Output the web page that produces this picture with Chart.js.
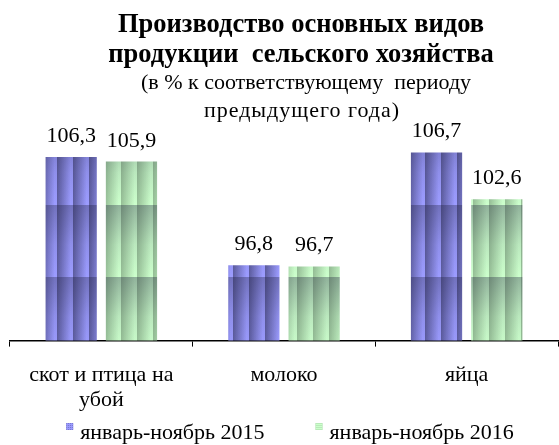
<!DOCTYPE html>
<html><head><meta charset="utf-8">
<script src="https://cdn.jsdelivr.net/npm/chart.js@4/dist/chart.umd.min.js"></script>
<style>html,body{margin:0;padding:0;background:#fff;overflow:hidden}canvas{display:block}</style>
</head><body>
<canvas id="c" width="559" height="445"></canvas>
<script>
// ---- data ----
const categories = [['скот и птица на', 'убой'], 'молоко', 'яйца'];
const seriesNames = ['январь-ноябрь 2015', 'январь-ноябрь 2016'];
const values2015 = [106.3, 96.8, 106.7];
const values2016 = [105.9, 96.7, 102.6];
const titleLines = ['Производство основных видов', 'продукции  сельского хозяйства'];
const subtitleLines = ['(в % к соответствующему  периоду', 'предыдущего года)'];
const yMin = 90.2, yMax = 108.05;

// ---- styles ----
const FONT = '"Liberation Serif", "Times New Roman", serif';
const baseColors = [
  {light: '#9c9cff', dark: '#5c5c9e', legend: '#7070c8'},
  {light: '#ccffcc', dark: '#96bf96', legend: '#a4d4a4'}
];

function makePattern(col) {
  const c = document.createElement('canvas');
  c.width = 16; c.height = 72;
  const g = c.getContext('2d');
  const hg = g.createLinearGradient(0, 0, 16, 0);
  hg.addColorStop(0, col.dark);
  hg.addColorStop(0.85, col.light);
  hg.addColorStop(1, col.light);
  g.fillStyle = hg;
  g.fillRect(0, 0, 16, 72);
  const vg = g.createLinearGradient(0, 0, 0, 72);
  vg.addColorStop(0, 'rgba(30,30,60,0.34)');
  vg.addColorStop(0.55, 'rgba(30,30,60,0.10)');
  vg.addColorStop(1, 'rgba(30,30,60,0)');
  g.fillStyle = vg;
  g.fillRect(0, 0, 16, 72);
  const ctx = document.getElementById('c').getContext('2d');
  const p = ctx.createPattern(c, 'repeat');
  if (p.setTransform) p.setTransform(new DOMMatrix([1, 0, 0, 1, 9, 61]));
  return p;
}

const patterns = baseColors.map(makePattern);

const valueLabels = {
  id: 'valueLabels',
  afterDatasetsDraw(chart) {
    const ctx = chart.ctx;
    ctx.save();
    ctx.fillStyle = '#000';
    ctx.font = '22px ' + FONT;
    ctx.textAlign = 'center';
    ctx.textBaseline = 'alphabetic';
    chart.data.datasets.forEach((ds, di) => {
      const meta = chart.getDatasetMeta(di);
      meta.data.forEach((el, i) => {
        const txt = ds.data[i].toFixed(1).replace('.', ',');
        ctx.fillText(txt, el.x, el.y - 15);
      });
    });
    ctx.restore();
  }
};

const titles = {
  id: 'titles',
  afterDraw(chart) {
    const ctx = chart.ctx;
    ctx.save();
    ctx.fillStyle = '#000';
    ctx.textAlign = 'center';
    ctx.textBaseline = 'alphabetic';
    ctx.font = 'bold 26.5px ' + FONT;
    ctx.fillText(titleLines[0], 301, 32);
    ctx.fillText(titleLines[1], 301, 62);
    ctx.font = '22px ' + FONT;
    ctx.fillText(subtitleLines[0], 306, 89);
    if ('letterSpacing' in ctx) ctx.letterSpacing = '1px';
    ctx.fillText(subtitleLines[1], 302, 117);
    ctx.restore();
  }
};

const legendPlugin = {
  id: 'customLegend',
  afterDraw(chart) {
    const ctx = chart.ctx;
    ctx.save();
    ctx.font = '22px ' + FONT;
    ctx.textBaseline = 'alphabetic';
    ctx.textAlign = 'left';
    const box = 7, boxGap = 7, itemGap = 51;
    const widths = chart.data.datasets.map(d => ctx.measureText(d.label).width);
    let total = 0;
    widths.forEach((w, i) => { total += box + boxGap + w + (i ? itemGap : 0); });
    let x = 290 - total / 2;
    const baseY = 439;
    chart.data.datasets.forEach((d, i) => {
      const col = baseColors[i];
      ctx.fillStyle = col.legend;
      ctx.fillRect(x, baseY - 16, box, box);
      ctx.fillStyle = col.light;
      for (let k = 1; k < box; k += 2) {
        ctx.fillRect(x + k, baseY - 16, 1, box);
        ctx.fillRect(x, baseY - 16 + k, box, 1);
      }
      ctx.fillStyle = '#000';
      ctx.fillText(d.label, x + box + boxGap, baseY);
      x += box + boxGap + widths[i] + itemGap;
    });
    ctx.restore();
  }
};

new Chart(document.getElementById('c'), {
  type: 'bar',
  data: {
    labels: categories,
    datasets: [
      {label: seriesNames[0], data: values2015, backgroundColor: patterns[0], borderWidth: 0},
      {label: seriesNames[1], data: values2016, backgroundColor: patterns[1], borderWidth: 0}
    ]
  },
  options: {
    responsive: false,
    animation: false,
    devicePixelRatio: 1,
    categoryPercentage: 0.66,
    barPercentage: 0.85,
    layout: {padding: {top: 137, left: 10, right: 1, bottom: 16}},
    plugins: {
      legend: {display: false},
      title: {display: false},
      tooltip: {enabled: false}
    },
    scales: {
      y: {display: false, min: yMin, max: yMax},
      x: {
        grid: {offset: true, drawOnChartArea: false, drawTicks: true, tickLength: 6, color: '#000', lineWidth: 1},
        border: {display: true, color: '#000', width: 1.5},
        ticks: {color: '#000', padding: 17, maxRotation: 0, autoSkip: false,
                font: {family: FONT, size: 22, lineHeight: 1.1}}
      }
    }
  },
  plugins: [valueLabels, titles, legendPlugin]
});
</script>
</body></html>
